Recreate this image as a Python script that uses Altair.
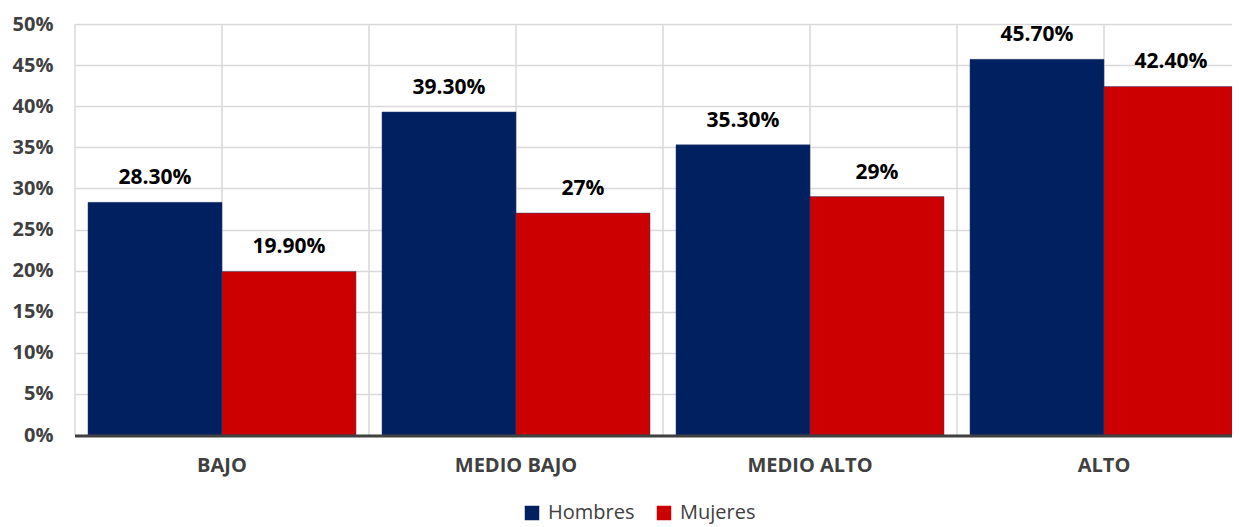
import altair as alt
import pandas as pd

categories = ["BAJO", "MEDIO BAJO", "MEDIO ALTO", "ALTO"]
groups = ["Hombres", "Mujeres"]
hombres = [0.283, 0.393, 0.353, 0.457]
mujeres = [0.199, 0.27, 0.29, 0.424]
hombres_labels = ["28.30%", "39.30%", "35.30%", "45.70%"]
mujeres_labels = ["19.90%", "27%", "29%", "42.40%"]
y_ticks = [0, 0.05, 0.10, 0.15, 0.20, 0.25, 0.30, 0.35, 0.40, 0.45, 0.50]
colors = ["#002060", "#CC0000"]

rows = []
for c, h, hl in zip(categories, hombres, hombres_labels):
    rows.append({"cat": c, "grupo": "Hombres", "valor": h, "label": hl})
for c, m, ml in zip(categories, mujeres, mujeres_labels):
    rows.append({"cat": c, "grupo": "Mujeres", "valor": m, "label": ml})
df = pd.DataFrame(rows)
cat_df = pd.DataFrame({"cat": categories})

W, H = 1176, 411
FONT = "Open Sans"
GRID = "#d9d9d9"
TXT = "#404040"

x_scale = alt.Scale(domain=categories, paddingInner=0, paddingOuter=0)
xoff_scale = alt.Scale(domain=groups, paddingInner=0, paddingOuter=0.097)
y_scale = alt.Scale(domain=[0, 0.5], nice=False)

x_axis = alt.Axis(title=None, labelAngle=0, domain=False, ticks=False, grid=False,
                  labelFont=FONT, labelFontSize=20, labelFontWeight="bold",
                  labelColor=TXT, labelPadding=20)
y_axis = alt.Axis(title=None, values=y_ticks, format=".0%", domain=False, ticks=False,
                  grid=True, gridColor=GRID, gridWidth=1.5,
                  labelFont=FONT, labelFontSize=20, labelFontWeight="bold",
                  labelColor=TXT, labelPadding=22)

edges = alt.Chart(cat_df).mark_rule(color=GRID, strokeWidth=1.5).encode(
    x=alt.X("cat:N", sort=categories, scale=x_scale, bandPosition=0, axis=x_axis)
)
centers = alt.Chart(cat_df).mark_rule(color=GRID, strokeWidth=1.5).encode(
    x=alt.X("cat:N", sort=categories, scale=x_scale, bandPosition=0.5, axis=x_axis)
)

bars = alt.Chart(df).mark_bar(stroke="#2a4272", strokeWidth=0.8, strokeOpacity=0.6).encode(
    x=alt.X("cat:N", sort=categories, scale=x_scale, axis=x_axis),
    xOffset=alt.XOffset("grupo:N", sort=groups, scale=xoff_scale),
    y=alt.Y("valor:Q", scale=y_scale, axis=y_axis),
    color=alt.Color("grupo:N", sort=groups,
                    scale=alt.Scale(domain=groups, range=colors),
                    legend=alt.Legend(title=None, orient="none", legendX=447, legendY=479,
                                      direction="horizontal", symbolType="square",
                                      symbolSize=210, symbolStrokeWidth=0,
                                      labelFont=FONT, labelFontSize=20, labelColor=TXT,
                                      columnPadding=19, labelOffset=6, padding=0)),
)

labels = alt.Chart(df).mark_text(baseline="alphabetic", dy=-18, font=FONT, fontSize=21,
                                 fontWeight="bold", color="black").encode(
    x=alt.X("cat:N", sort=categories, scale=x_scale, axis=x_axis),
    xOffset=alt.XOffset("grupo:N", sort=groups, scale=xoff_scale),
    y=alt.Y("valor:Q", scale=y_scale, axis=y_axis),
    text="label:N",
)

baseline = alt.Chart(pd.DataFrame({"a": [0]})).mark_rule(color=TXT, strokeWidth=3).encode(
    x=alt.value(0), x2=alt.value(W), y=alt.value(H + 1)
)

chart = alt.layer(edges, centers, bars, labels, baseline).properties(
    width=W, height=H,
    autosize=alt.AutoSizeParams(type="none"),
    padding={"left": 67, "top": 16, "right": -19, "bottom": 100},
    background="white",
).configure_view(stroke=None)

chart.save("out.html", embed_options={"renderer": "svg", "actions": False})
